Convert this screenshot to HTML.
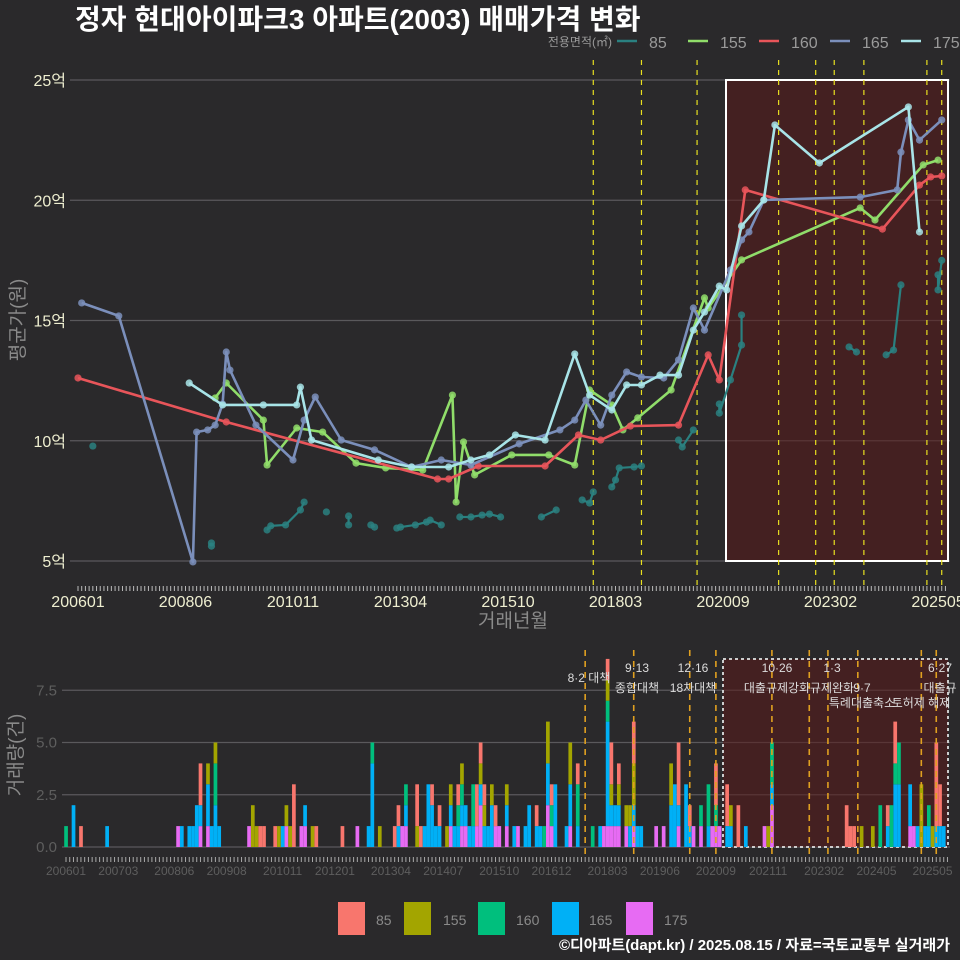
<!DOCTYPE html>
<html><head><meta charset="utf-8"><style>
html,body{margin:0;padding:0;background:#2a292b;}
svg{display:block;font-family:"Liberation Sans","Noto Sans CJK KR",sans-serif;}
</style></head><body>
<svg id="c" width="960" height="960" viewBox="0 0 960 960">
<rect x="0" y="0" width="960" height="960" fill="#2a292b"/>
<text x="75" y="29" fill="#ffffff" font-size="28" font-weight="bold">정자 현대아이파크3 아파트(2003) 매매가격 변화</text>
<g id="topg"></g>
<g id="botg"></g>
<text x="950" y="950" fill="#ffffff" font-size="15" font-weight="bold" text-anchor="end">©디아파트(dapt.kr) / 2025.08.15 / 자료=국토교통부 실거래가</text>
</svg>
<script>
// ---- data ----
const sizes = ['85','155','160','165','175'];
const lineColors = ['#2a8080','#90dd6a','#e8555a','#7b8fbb','#a8e4e8'];
const barColors = ['#f8766d','#a3a500','#00bf7d','#00b0f6','#e76bf3'];
const topTickMonths = [0,29,58,87,116,145,174,203,232];
const topTickLabels = ['200601','200806','201011','201304','201510','201803','202009','202302','202505'];
const yTicks = [5,10,15,20,25];
const yTickLabels = ['5억','10억','15억','20억','25억'];
const botTickMonths = [0,14,29,43,58,72,87,101,116,130,145,159,174,188,203,217,232];
const botTickLabels = ['200601','200703','200806','200908','201011','201201','201304','201407','201510','201612','201803','201906','202009','202111','202302','202405','202505'];
const volTicks = [0,2.5,5,7.5];
const volTickLabels = ['0.0','2.5','5.0','7.5'];
const policyMonths = [139,152,167,174,189,199,204,212,229,233];
const m85 = [4,36,36,51,52,56,60,61,67,73,73,79,80,86,87,91,94,95,98,103,106,109,111,114,125,129,136,138,139,144,145,146,150,152,162,163,166,173,173,176,179,179,208,210,218,220,222,232,232,233];
const v85 = [9.78,5.75,5.62,6.29,6.46,6.5,7.12,7.45,7.04,6.87,6.5,6.5,6.41,6.37,6.41,6.5,6.62,6.7,6.5,6.83,6.83,6.91,6.95,6.83,6.83,7.12,7.54,7.41,7.87,8.08,8.37,8.87,8.91,8.95,10.03,9.74,10.45,11.53,11.15,12.53,13.98,15.23,13.9,13.69,13.57,13.77,16.48,16.9,16.27,17.5];
const m155 = [37,40,50,51,59,66,75,83,93,101,102,104,107,117,127,134,138,144,147,151,160,169,170,179,211,215,228,232];
const v155 = [11.78,12.4,10.86,8.99,10.53,10.36,9.07,8.87,8.78,11.9,7.45,9.95,8.58,9.41,9.41,8.99,12.11,11.49,10.45,10.95,12.11,15.94,15.52,17.52,19.68,19.18,21.47,21.67];
const m160 = [0,40,97,100,108,126,135,141,149,162,170,173,180,217,227,230,233];
const v160 = [12.61,10.78,8.41,8.41,8.95,8.95,10.24,10.03,10.61,10.65,13.57,12.53,20.43,18.8,20.63,20.97,21.01];
const m165 = [1,11,31,32,35,37,39,40,41,48,58,61,64,71,80,90,98,106,119,130,134,137,141,144,148,152,158,162,166,169,176,179,181,185,211,221,222,224,227,233];
const v165 = [15.73,15.19,4.96,10.36,10.45,10.65,11.53,13.69,12.94,10.65,9.2,10.86,11.82,10.03,9.62,8.91,9.2,8.99,9.87,10.45,10.86,11.69,10.65,11.9,12.86,12.65,12.61,13.36,15.52,14.6,17.1,18.35,18.68,20.01,20.13,20.43,22.0,23.34,22.5,23.34];
const m175 = [30,39,50,59,60,63,81,90,100,106,111,118,126,134,138,144,148,152,157,162,166,169,173,175,179,185,188,200,224,227];
const v175 = [12.4,11.49,11.49,11.49,12.23,10.03,9.2,8.91,8.91,9.2,9.41,10.24,10.03,13.61,11.9,11.28,12.32,12.32,12.73,12.73,14.6,15.35,16.43,16.27,18.93,20.01,23.13,21.55,23.88,18.68];
const barMonths = [0,2,4,11,30,31,33,34,35,36,38,39,40,41,49,50,51,52,53,56,57,58,59,60,61,63,64,66,67,74,78,81,82,84,88,89,90,91,94,95,96,97,98,99,100,102,103,104,105,106,107,108,109,110,111,112,113,114,115,116,118,120,121,123,124,126,127,128,129,130,131,134,135,137,141,143,144,145,146,147,148,150,151,152,153,154,158,160,162,163,164,166,167,168,170,172,173,174,175,177,178,180,182,187,188,189,209,210,211,213,216,218,220,221,222,223,226,227,228,229,230,231,232,233,234,235];
const c85 =  [0,0,1,0,0,0,0,0,0,2,0,0,0,0,0,0,0,1,1,1,0,0,0,0,3,0,0,0,1,1,0,0,0,0,1,1,0,0,2,1,0,0,1,0,1,0,0,0,1,0,0,0,0,2,1,1,0,0,1,0,0,0,0,0,0,1,0,0,0,1,0,0,0,1,0,0,0,1,2,0,1,0,0,2,0,0,0,0,0,0,3,0,1,0,0,0,0,2,0,2,0,2,0,0,0,0,2,1,1,0,0,0,1,0,2,0,0,0,0,0,0,0,0,4,2,0];
const c155 = [0,0,0,0,0,0,0,0,0,0,1,0,1,0,0,2,1,0,0,0,1,0,1,1,0,0,0,1,0,0,0,0,0,1,0,0,0,0,1,0,0,0,0,0,0,1,1,0,0,1,0,0,0,0,1,1,0,1,0,0,1,0,0,0,0,0,0,0,2,0,0,0,2,0,0,0,0,1,1,0,1,1,1,2,0,0,0,0,2,0,0,0,0,0,0,0,0,0,0,0,1,0,0,0,1,0,0,0,0,1,1,0,0,0,0,0,0,0,0,3,0,0,1,0,0,0];
const c160 = [1,0,0,0,0,0,0,0,0,0,0,0,2,0,0,0,0,0,0,0,0,0,0,0,0,0,0,0,0,0,0,0,1,0,0,0,0,1,0,0,0,0,0,0,0,0,0,0,1,1,0,0,2,0,0,0,0,0,0,0,0,0,0,0,0,0,0,1,0,1,0,0,0,2,1,0,0,1,0,0,0,0,0,0,0,0,0,0,0,0,0,0,0,0,1,2,0,1,0,0,0,0,0,0,0,2,0,0,0,0,0,2,0,2,1,2,0,0,0,0,0,1,0,0,0,0];
const c165 = [0,2,0,1,0,1,1,1,2,1,2,1,2,1,0,0,0,0,0,0,0,1,0,0,0,0,1,0,0,0,0,1,4,0,0,1,0,1,0,0,1,3,2,1,1,0,1,1,1,1,1,1,1,0,1,1,1,2,0,0,1,1,0,1,2,1,1,0,2,0,3,1,2,1,0,1,0,5,1,1,1,0,1,1,1,1,0,0,2,3,1,3,1,0,0,1,0,0,0,1,1,0,1,0,0,1,0,0,0,0,0,0,1,0,3,3,2,0,1,0,1,1,0,1,1,1];
const c175 = [0,0,0,0,1,0,0,0,0,1,1,0,0,0,1,0,0,0,0,0,0,0,1,0,0,1,1,0,0,0,1,0,0,0,0,0,1,1,0,0,0,0,0,0,0,0,1,0,0,1,1,0,0,1,2,0,0,0,1,1,1,0,1,0,0,0,0,0,2,1,0,0,1,0,0,0,1,1,1,1,1,1,0,1,0,0,1,1,0,0,1,0,0,1,1,0,1,1,1,0,0,0,0,1,0,2,0,0,0,0,0,0,0,0,0,0,1,1,0,0,0,0,0,0,0,0];
const annotations = [
 ['8·2 대책',589,678],['9·13',637,668],['종합대책',637,688],['12·16',693,668],['18차대책',693,688],
 ['10·26',777,668],['대출규제강화',777,688],['1·3',832,668],['규제완화',832,688],['9·7',862,688],
 ['특례대출축소',862,703],['토허제 해제',921,703],['6·27',940,668],['대출규',940,688]];

const NS='http://www.w3.org/2000/svg';
function mk(parent,tag,attrs,text){const e=document.createElementNS(NS,tag);for(const k in attrs)e.setAttribute(k,attrs[k]);if(text!==undefined)e.textContent=text;parent.appendChild(e);return e;}
const xT = m => 78 + m*3.707;
const yT = v => 561 - (v-5)*24.05;
const xB = m => 66 + m*3.735;
const yB = c => 847 - c*20.9;
const topG=document.getElementById('topg'), botG=document.getElementById('botg');

// ---- top chart ----
yTicks.forEach((t,i)=>{
  let g=mk(topG,'line',{x1:70,x2:950,y1:yT(t),y2:yT(t),stroke:'#5a595c','stroke-width':1.2});
  
  
  let l=mk(topG,'text',{x:66,y:yT(t)+6,fill:'#eeeed0','font-size':16,'text-anchor':'end'},yTickLabels[i]);
  
  
});
let box=mk(topG,'rect',{x:726,y:80,width:222,height:481,fill:'#5a1a1a','fill-opacity':0.55,stroke:'#ffffff','stroke-width':2});


policyMonths.forEach(m=>{
  if(m===174) return;
  let l=mk(topG,'line',{x1:xT(m),x2:xT(m),y1:60,y2:590,stroke:'#e8e020','stroke-width':1.2,'stroke-dasharray':'5,5'});
  
  
});
for(let m=0;m<=234;m++){
  let t=mk(topG,'line',{x1:xT(m),x2:xT(m),y1:586,y2:591,stroke:'#bbbbbb','stroke-width':1});
  
  
}
topTickMonths.forEach((m,i)=>{
  let l=mk(topG,'text',{x:xT(m),y:607,fill:'#eeeed0','font-size':16,'text-anchor':'middle'},topTickLabels[i]);
  
  
});
let xt=mk(topG,'text',{x:513,y:627,fill:'#8a8a8a','font-size':19,'text-anchor':'middle'},'거래년월');


let yt=mk(topG,'text',{x:0,y:0,fill:'#8a8a8a','font-size':19,'text-anchor':'middle',transform:'translate(24,320) rotate(-90)'},'평균가(원)');


const series=[[m85,v85],[m155,v155],[m160,v160],[m165,v165],[m175,v175]];
series.forEach((s,si)=>{
  const g=mk(topG,'g',{});
  
  
  if(si===0){
    // 85㎡: connect only consecutive nearby months
    for(let i=1;i<s[0].length;i++){
      if(s[0][i]-s[0][i-1]>4) continue;
      let seg=mk(g,'line',{x1:xT(s[0][i-1]),y1:yT(s[1][i-1]),x2:xT(s[0][i]),y2:yT(s[1][i]),stroke:lineColors[si],'stroke-width':2.2});
      
      
    }
  } else {
    const pts=s[0].map((m,i)=>xT(m).toFixed(1)+','+yT(s[1][i]).toFixed(1)).join(' ');
    let pl=mk(g,'polyline',{points:pts,fill:'none',stroke:lineColors[si],'stroke-width':2.6,'stroke-linejoin':'round'});
    
    
  }
  s[0].forEach((m,i)=>{
    let c=mk(g,'circle',{cx:xT(m),cy:yT(s[1][i]),r:3.6,fill:lineColors[si],'fill-opacity':0.85});
    
    
  });
});
let lt=mk(topG,'text',{x:612,y:46,fill:'#9a9a9a','font-size':12,'text-anchor':'end'},'전용면적(㎡)');


const legX=[617,688,759,830,901];
sizes.forEach((s,i)=>{
  const g=mk(topG,'g',{});
  
  
  mk(g,'line',{x1:legX[i],x2:legX[i]+20,y1:41,y2:41,stroke:lineColors[i],'stroke-width':2.5});
  mk(g,'text',{x:legX[i]+32,y:48,fill:'#9a9a9a','font-size':16},s);
});

// ---- bottom chart ----
volTicks.forEach((t,i)=>{
  let g=mk(botG,'line',{x1:62,x2:950,y1:yB(t),y2:yB(t),stroke:'#5a595c','stroke-width':1.2});
  
  
  let l=mk(botG,'text',{x:57,y:yB(t)+5,fill:'#5e5e5e','font-size':15,'text-anchor':'end'},volTickLabels[i]);
  
  
});
let bbox=mk(botG,'rect',{x:723,y:659,width:225,height:188,fill:'#5a1a1a','fill-opacity':0.55,stroke:'#cccccc','stroke-width':2,'stroke-dasharray':'3,3'});


const counts=[c85,c155,c160,c165,c175];
const stackOrder=[4,3,2,1,0];
barMonths.forEach((m,i)=>{
  let base=0;
  stackOrder.forEach(k=>{
    const c=counts[k][i];
    if(!c) return;
    let r=mk(botG,'rect',{x:xB(m)-1.8,y:yB(base+c),width:3.7,height:yB(base)-yB(base+c),fill:barColors[k]});
    
    
    base+=c;
  });
});
policyMonths.forEach(m=>{
  let l=mk(botG,'line',{x1:xB(m),x2:xB(m),y1:650,y2:857,stroke:'#e0a020','stroke-width':1.6,'stroke-dasharray':'6,5'});
  
  
});
annotations.forEach(a=>{
  let t=mk(botG,'text',{x:a[1],y:a[2]+4,fill:'#dddddd','font-size':12,'text-anchor':'middle'},a[0]);
  
  
});
for(let m=0;m<=236;m++){
  let t=mk(botG,'line',{x1:xB(m),x2:xB(m),y1:857,y2:862,stroke:'#aaaaaa','stroke-width':1});
  
  
}
botTickMonths.forEach((m,i)=>{
  let l=mk(botG,'text',{x:xB(m),y:875,fill:'#5e5e5e','font-size':12,'text-anchor':'middle'},botTickLabels[i]);
  
  
});
let vyt=mk(botG,'text',{x:0,y:0,fill:'#8a8a8a','font-size':19,'text-anchor':'middle',transform:'translate(22,755) rotate(-90)'},'거래량(건)');


const sqX=[338,404,478,552,626];
const txX=[376,443,516,589,664];
sizes.forEach((s,i)=>{
  const g=mk(botG,'g',{});
  
  
  mk(g,'rect',{x:sqX[i],y:902,width:27,height:33,fill:barColors[i]});
  mk(g,'text',{x:txX[i],y:925,fill:'#8a8a8a','font-size':14,'text-anchor':'start'},s);
});
</script>
</body></html>
